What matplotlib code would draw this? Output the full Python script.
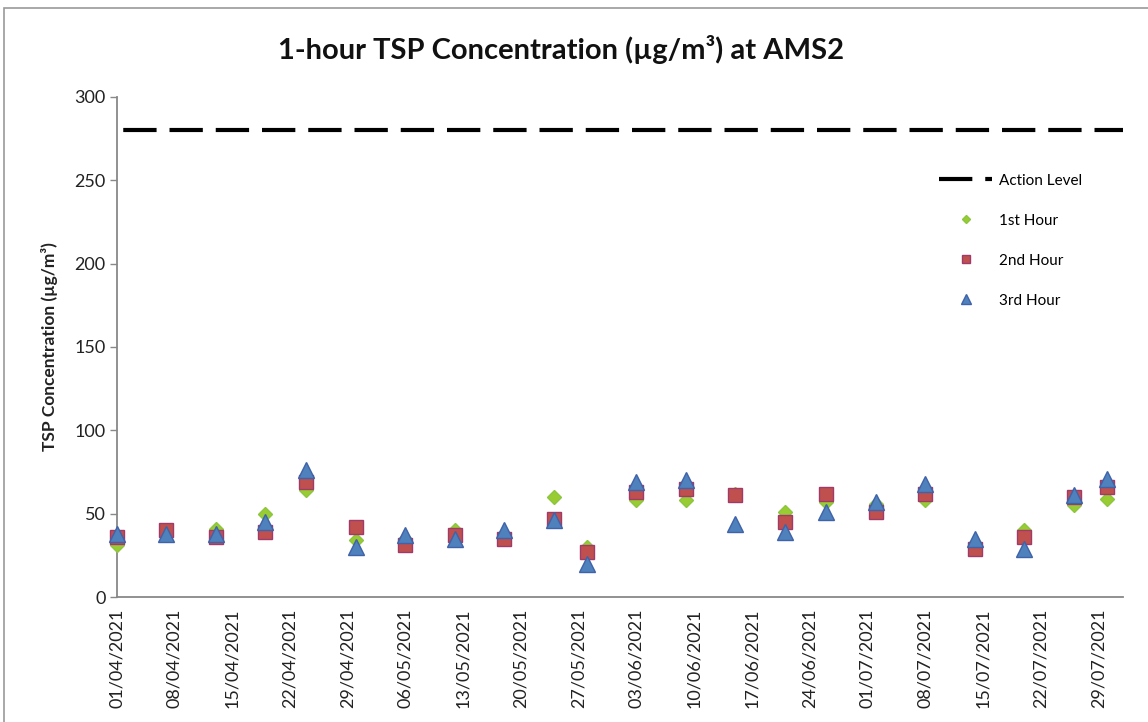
import numpy as np
import pandas as pd
import matplotlib
matplotlib.use("Agg")
import matplotlib.pyplot as plt
import matplotlib.dates as mdates
from matplotlib.lines import Line2D
from matplotlib.patches import Rectangle

plt.rcParams['font.family'] = ['Lato', 'DejaVu Sans']

# sampling dates (dd/mm/yyyy)
dates = ['01/04/2021', '07/04/2021', '13/04/2021', '19/04/2021', '24/04/2021',
         '30/04/2021', '06/05/2021', '12/05/2021', '18/05/2021', '24/05/2021',
         '28/05/2021', '03/06/2021', '09/06/2021', '15/06/2021', '21/06/2021',
         '26/06/2021', '02/07/2021', '08/07/2021', '14/07/2021', '20/07/2021',
         '26/07/2021', '30/07/2021']

# 1-hour TSP readings (ug/m3)
hour1 = [31, 39, 41, 50, 64, 34, 35, 40, 37, 60, 30, 58, 58, 62, 51,
         57, 56, 58, 31, 40, 55, 59]
hour2 = [36, 40, 36, 39, 69, 42, 31, 37, 35, 47, 27, 63, 65, 61, 45,
         62, 51, 62, 29, 36, 60, 66]
hour3 = [38, 38, 38, 45, 76, 30, 37, 35, 40, 46, 20, 69, 70, 44, 39,
         51, 57, 68, 35, 29, 61, 71]

action_level = 280
x_start = '01/04/2021'
x_end = '01/08/2021'
tick_step_days = 7

x = pd.to_datetime(dates, format='%d/%m/%Y')
x0 = pd.to_datetime(x_start, format='%d/%m/%Y')
x1 = pd.to_datetime(x_end, format='%d/%m/%Y')

fig = plt.figure(figsize=(11.48, 7.22), dpi=100)
ax = fig.add_axes([0.1017, 0.1731, 0.8766, 0.6926])

# outer chart-area border
fig.patches.append(Rectangle((4 / 1148, -0.05), 1.1, 1 - 8 / 722 + 0.05,
                             transform=fig.transFigure, fill=False,
                             edgecolor='#9a9a9a', linewidth=1.2, zorder=0))

ax.plot([x0, x1], [action_level, action_level], color='black', linewidth=3,
        linestyle=(9.6, (8, 3.1)), zorder=2)
ax.plot(x, hour1, linestyle='none', marker='D', markersize=7.5,
        markerfacecolor='#99CC33', markeredgecolor='#8CC63F', clip_on=False, zorder=3)
ax.plot(x, hour2, linestyle='none', marker='s', markersize=9.5,
        markerfacecolor='#C0504D', markeredgecolor='#A03A6A', markeredgewidth=1.0,
        clip_on=False, zorder=4)
ax.plot(x, hour3, linestyle='none', marker='^', markersize=11,
        markerfacecolor='#4F81BD', markeredgecolor='#3F62A8', markeredgewidth=1.0,
        clip_on=False, zorder=5)

ax.set_xlim(x0, x1)
ax.set_ylim(0, 300)
ax.set_yticks(np.arange(0, 301, 50))
ax.set_xticks(pd.date_range(x0, x[-1], freq=f'{tick_step_days}D'))
ax.xaxis.set_major_formatter(mdates.DateFormatter('%d/%m/%Y'))
ax.tick_params(axis='x', length=0, pad=8, labelsize=13, labelrotation=90,
               labelcolor='#222222')
ax.tick_params(axis='y', length=5, width=1, color='#888888', labelsize=13,
               labelcolor='#222222', pad=3)

for side in ['top', 'right']:
    ax.spines[side].set_visible(False)
for side in ['left', 'bottom']:
    ax.spines[side].set_color('#888888')
    ax.spines[side].set_linewidth(1.3)

ax.set_ylabel('TSP Concentration (µg/m³)', fontsize=12.5, fontweight='bold',
              color='#222222', labelpad=12)
fig.suptitle('1-hour TSP Concentration (µg/m³) at AMS2', x=0.4885, y=0.952,
             fontsize=21, fontweight='bold', color='#111111')

# legend entries
handles = [
    Line2D([], [], color='black', linewidth=3, linestyle=(0, (8, 3.1))),
    Line2D([], [], linestyle='none', marker='D', markersize=4.5,
           markerfacecolor='#99CC33', markeredgecolor='#8CC63F'),
    Line2D([], [], linestyle='none', marker='s', markersize=6,
           markerfacecolor='#C0504D', markeredgecolor='#A03A6A'),
    Line2D([], [], linestyle='none', marker='^', markersize=7,
           markerfacecolor='#4F81BD', markeredgecolor='#3F62A8'),
]
labels = ['Action Level', '1st Hour', '2nd Hour', '3rd Hour']
ax.legend(handles, labels, loc='upper left', bbox_to_anchor=(0.8095, 0.862),
          frameon=False, fontsize=11, handlelength=3.5, handletextpad=0.4,
          labelspacing=1.7, borderpad=0)

fig.savefig('out.png', dpi=100)
